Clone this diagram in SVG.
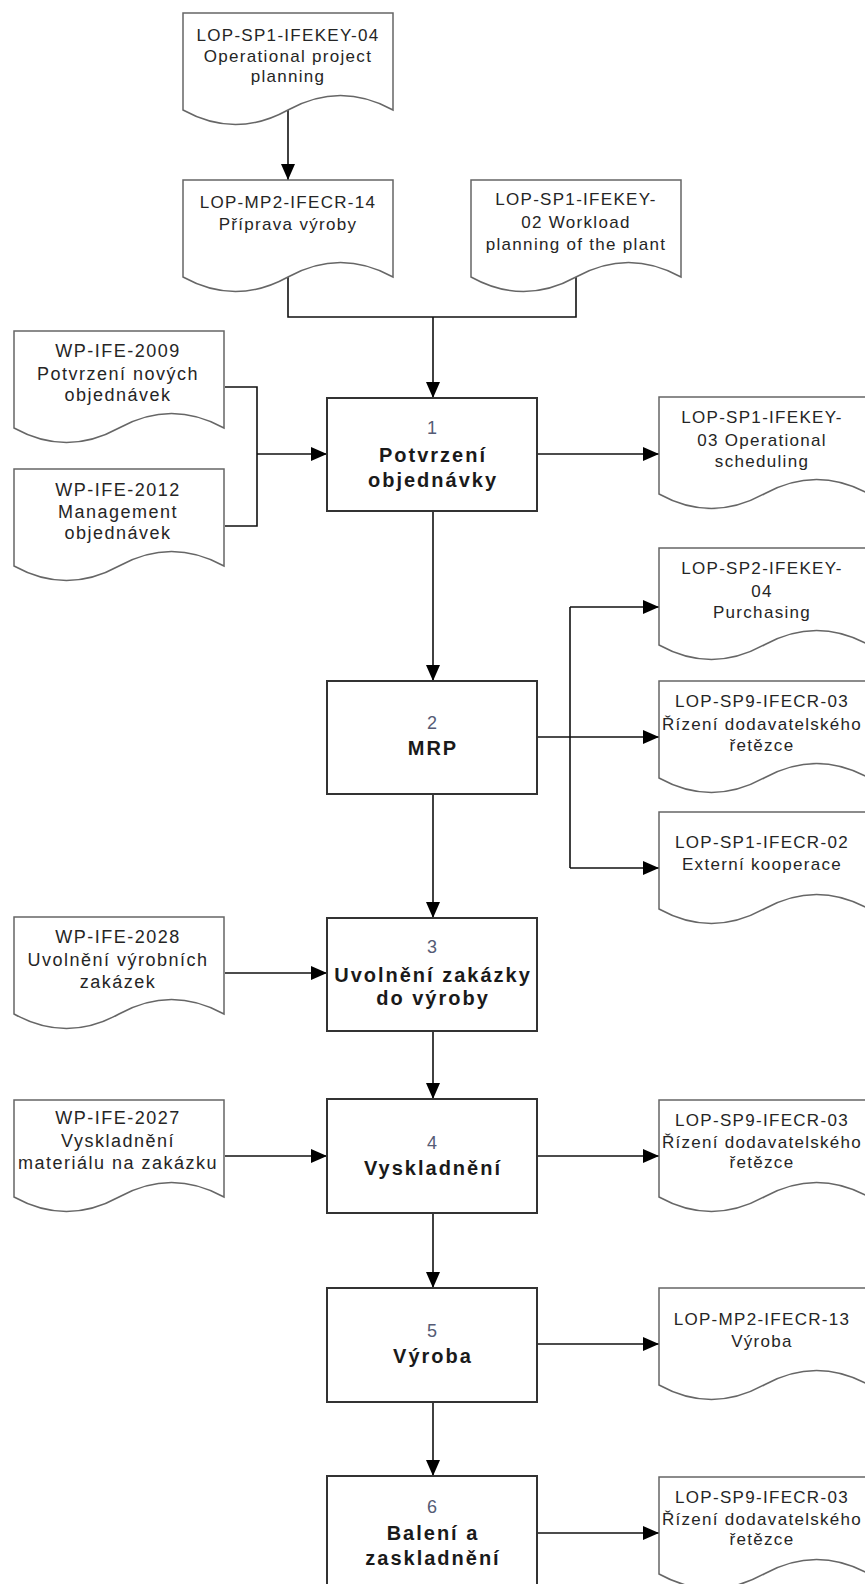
<svg xmlns="http://www.w3.org/2000/svg" xmlns:xlink="http://www.w3.org/1999/xlink" width="865" height="1584" viewBox="0 0 865 1584">
<style>
.doc{fill:#fff;stroke:#666;stroke-width:1.5}
.box{fill:#fff;stroke:#333;stroke-width:2}
.con{fill:none;stroke:#111;stroke-width:1.6}
text{font-family:"Liberation Sans",Arial,sans-serif;text-anchor:middle;fill:#252525}
.dt{font-size:17px;letter-spacing:1.3px}
.lt{font-size:18px;letter-spacing:1.5px}
.num{font-size:18px;fill:#555b75}
.bt{font-size:20px;font-weight:bold;letter-spacing:2px;fill:#1a1a1a}
</style>
<defs>
<path id="docshape" class="doc" d="M0,0 H210 V97 Q157.5,68 105,97 T0,97 Z"/>
<marker id="ah" markerUnits="userSpaceOnUse" markerWidth="16" markerHeight="14" refX="16" refY="7" orient="auto">
<path d="M0,0 L16,7 L0,14 Z" fill="#000"/>
</marker>
</defs>
<rect width="865" height="1584" fill="#fff"/>

<g id="connectors">
<path class="con" d="M288,110 V180" marker-end="url(#ah)"/>
<path class="con" d="M288,277 V317 H576 V277"/>
<path class="con" d="M433,317 V398" marker-end="url(#ah)"/>
<path class="con" d="M225,387 H257 V526 H225"/>
<path class="con" d="M257,454 H327" marker-end="url(#ah)"/>
<path class="con" d="M537,454 H659" marker-end="url(#ah)"/>
<path class="con" d="M433,511 V681" marker-end="url(#ah)"/>
<path class="con" d="M537,737 H570"/>
<path class="con" d="M570,607 V868"/>
<path class="con" d="M570,607 H659" marker-end="url(#ah)"/>
<path class="con" d="M570,737 H659" marker-end="url(#ah)"/>
<path class="con" d="M570,868 H659" marker-end="url(#ah)"/>
<path class="con" d="M433,794 V918" marker-end="url(#ah)"/>
<path class="con" d="M225,973 H327" marker-end="url(#ah)"/>
<path class="con" d="M433,1031 V1099" marker-end="url(#ah)"/>
<path class="con" d="M225,1156 H327" marker-end="url(#ah)"/>
<path class="con" d="M537,1156 H659" marker-end="url(#ah)"/>
<path class="con" d="M433,1213 V1288" marker-end="url(#ah)"/>
<path class="con" d="M537,1344 H659" marker-end="url(#ah)"/>
<path class="con" d="M433,1402 V1476" marker-end="url(#ah)"/>
<path class="con" d="M537,1533 H659" marker-end="url(#ah)"/>
</g>

<g id="doc-top1">
<use xlink:href="#docshape" x="183" y="13"/>
<text class="dt" x="288" y="41">LOP-SP1-IFEKEY-04</text>
<text class="dt" x="288" y="62">Operational project</text>
<text class="dt" x="288" y="82">planning</text>
</g>
<g id="doc-top2">
<use xlink:href="#docshape" x="183" y="180"/>
<text class="dt" x="288" y="208">LOP-MP2-IFECR-14</text>
<text class="dt" x="288" y="230">Příprava výroby</text>
</g>
<g id="doc-top3">
<use xlink:href="#docshape" x="471" y="180"/>
<text class="dt" x="576" y="205">LOP-SP1-IFEKEY-</text>
<text class="dt" x="576" y="228">02 Workload</text>
<text class="dt" x="576" y="250">planning of the plant</text>
</g>

<g id="doc-left1">
<use xlink:href="#docshape" x="14" y="331"/>
<text class="lt" x="118" y="357">WP-IFE-2009</text>
<text class="lt" x="118" y="380">Potvrzení nových</text>
<text class="lt" x="118" y="401">objednávek</text>
</g>
<g id="doc-left2">
<use xlink:href="#docshape" x="14" y="469"/>
<text class="lt" x="118" y="496">WP-IFE-2012</text>
<text class="lt" x="118" y="518">Management</text>
<text class="lt" x="118" y="539">objednávek</text>
</g>
<g id="doc-left3">
<use xlink:href="#docshape" x="14" y="917"/>
<text class="lt" x="118" y="943">WP-IFE-2028</text>
<text class="lt" x="118" y="966">Uvolnění výrobních</text>
<text class="lt" x="118" y="988">zakázek</text>
</g>
<g id="doc-left4">
<use xlink:href="#docshape" x="14" y="1100"/>
<text class="lt" x="118" y="1124">WP-IFE-2027</text>
<text class="lt" x="118" y="1147">Vyskladnění</text>
<text class="lt" x="118" y="1169">materiálu na zakázku</text>
</g>

<g id="doc-right1">
<use xlink:href="#docshape" x="659" y="397"/>
<text class="dt" x="762" y="423">LOP-SP1-IFEKEY-</text>
<text class="dt" x="762" y="446">03 Operational</text>
<text class="dt" x="762" y="467">scheduling</text>
</g>
<g id="doc-right2">
<use xlink:href="#docshape" x="659" y="548"/>
<text class="dt" x="762" y="574">LOP-SP2-IFEKEY-</text>
<text class="dt" x="762" y="597">04</text>
<text class="dt" x="762" y="618">Purchasing</text>
</g>
<g id="doc-right3">
<use xlink:href="#docshape" x="659" y="681"/>
<text class="dt" x="762" y="707">LOP-SP9-IFECR-03</text>
<text class="dt" x="762" y="730">Řízení dodavatelského</text>
<text class="dt" x="762" y="751">řetězce</text>
</g>
<g id="doc-right4">
<use xlink:href="#docshape" x="659" y="812"/>
<text class="dt" x="762" y="848">LOP-SP1-IFECR-02</text>
<text class="dt" x="762" y="870">Externí kooperace</text>
</g>
<g id="doc-right5">
<use xlink:href="#docshape" x="659" y="1100"/>
<text class="dt" x="762" y="1126">LOP-SP9-IFECR-03</text>
<text class="dt" x="762" y="1148">Řízení dodavatelského</text>
<text class="dt" x="762" y="1168">řetězce</text>
</g>
<g id="doc-right6">
<use xlink:href="#docshape" x="659" y="1288"/>
<text class="dt" x="762" y="1325">LOP-MP2-IFECR-13</text>
<text class="dt" x="762" y="1347">Výroba</text>
</g>
<g id="doc-right7">
<use xlink:href="#docshape" x="659" y="1477"/>
<text class="dt" x="762" y="1503">LOP-SP9-IFECR-03</text>
<text class="dt" x="762" y="1525">Řízení dodavatelského</text>
<text class="dt" x="762" y="1545">řetězce</text>
</g>

<g id="step1">
<rect class="box" x="327" y="398" width="210" height="113"/>
<text class="num" x="432" y="434">1</text>
<text class="bt" x="433" y="462">Potvrzení</text>
<text class="bt" x="433" y="487">objednávky</text>
</g>
<g id="step2">
<rect class="box" x="327" y="681" width="210" height="113"/>
<text class="num" x="432" y="729">2</text>
<text class="bt" x="433" y="755">MRP</text>
</g>
<g id="step3">
<rect class="box" x="327" y="918" width="210" height="113"/>
<text class="num" x="432" y="953">3</text>
<text class="bt" x="433" y="982">Uvolnění zakázky</text>
<text class="bt" x="433" y="1005">do výroby</text>
</g>
<g id="step4">
<rect class="box" x="327" y="1099" width="210" height="114"/>
<text class="num" x="432" y="1149">4</text>
<text class="bt" x="433" y="1175">Vyskladnění</text>
</g>
<g id="step5">
<rect class="box" x="327" y="1288" width="210" height="114"/>
<text class="num" x="432" y="1337">5</text>
<text class="bt" x="433" y="1363">Výroba</text>
</g>
<g id="step6">
<rect class="box" x="327" y="1476" width="210" height="120"/>
<text class="num" x="432" y="1513">6</text>
<text class="bt" x="433" y="1540">Balení a</text>
<text class="bt" x="433" y="1565">zaskladnění</text>
</g>
</svg>
